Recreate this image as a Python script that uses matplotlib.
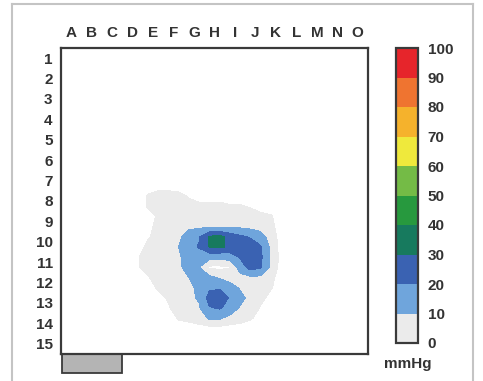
import numpy as np
import matplotlib.pyplot as plt
from matplotlib.colors import ListedColormap, BoundaryNorm
from matplotlib.cm import ScalarMappable
from matplotlib.patches import Rectangle
from matplotlib.lines import Line2D

plt.rcParams['font.family'] = ['Liberation Sans', 'DejaVu Sans']

# Sensor labels
COLUMNS = list('ABCDEFGHIJKLMNO')
ROWS = [str(n) for n in range(1, 16)]

# Colour scale (mmHg)
LEVELS = [0, 10, 20, 30, 40, 50, 60, 70, 80, 90, 100]
COLORS = ['#ebebeb', '#6fa5dc', '#3a62b2', '#177a5e', '#27993e',
          '#74bb46', '#efe93c', '#f5b22c', '#ef7430', '#e6252b']

# Pressure (mmHg) on a half-cell grid, only the loaded window.
# Window starts at half-cell row 13 / column 7 of the 30x30 grid.
WINDOW_ROW0 = 13
WINDOW_COL0 = 7
pressure = [
    [0, 0, 0, 0, 0, 0, 0, 0, 0, 0, 0, 0, 0, 0, 0],
    [0, 3, 5, 5, 4, 2, 0, 0, 0, 0, 0, 0, 0, 0, 0],
    [0, 3, 5, 5, 5, 4, 4, 4, 4, 3, 3, 2, 0, 0, 0],
    [0, 1, 3, 5, 5, 6, 6, 6, 6, 6, 5, 5, 4, 3, 0],
    [0, 1, 4, 5, 6, 8, 8, 8, 8, 8, 8, 7, 6, 4, 0],
    [0, 2, 4, 5, 8, 14, 19, 31, 33, 26, 22, 19, 14, 6, 0],
    [0, 4, 5, 6, 10, 16, 21, 30.5, 32, 28, 27, 26, 21, 8, 0],
    [2, 5, 6, 7, 8, 16, 13, 13, 12, 14, 21, 27, 22, 9, 0],
    [2, 5, 6, 7, 8, 14, 10, 1, 1, 2, 14, 24, 21, 8, 0],
    [0, 2, 5, 6, 8, 10, 14, 12, 9, 6, 7, 8, 8, 4, 0],
    [0, 1, 3, 5, 6, 8, 12, 18, 19, 14, 9, 6, 6, 3, 0],
    [0, 0, 1, 3, 5, 8, 11, 24, 26, 19, 13, 7, 4, 1, 0],
    [0, 0, 0, 2, 5, 7, 9, 19, 21, 16, 9, 6, 2, 0, 0],
    [0, 0, 0, 0, 3, 4, 6, 11, 11, 7, 5, 3, 1, 0, 0],
    [0, 0, 0, 0, 0, 0, 0, 0, 0, 0, 0, 0, 0, 0, 0],
]

# Build the full grid
grid = np.zeros((30, 30))
win = np.array(pressure, dtype=float)
grid[WINDOW_ROW0:WINDOW_ROW0 + win.shape[0], WINDOW_COL0:WINDOW_COL0 + win.shape[1]] = win
nodes = (np.arange(30) + 0.5) / 2.0

fig = plt.figure(figsize=(4.83, 3.81), dpi=100)

## Pressure map
ax = fig.add_axes([61 / 483, 1 - 354 / 381, 307 / 483, 306 / 381])
ax.contourf(nodes, nodes, grid, levels=[2.5] + LEVELS[1:], colors=COLORS)
ax.set_xlim(0, 15)
ax.set_ylim(15, 0)
ax.xaxis.tick_top()
ax.set_xticks(np.arange(15) + 0.5, COLUMNS)
ax.set_yticks(np.arange(15) + 0.5, ROWS)
ax.tick_params(length=0, labelsize=11, pad=6, labelcolor='#333333')
for label in ax.get_xticklabels() + ax.get_yticklabels():
    label.set_fontweight('bold')
for spine in ax.spines.values():
    spine.set_linewidth(1.6)
    spine.set_color('#3a3a3a')
ax.add_patch(Rectangle((0.05, 15), 2.93, 0.93, clip_on=False,
                       facecolor='#b4b4b4', edgecolor='#3a3a3a', linewidth=1.3))

## Colour bar
cax = fig.add_axes([396 / 483, 1 - 343 / 381, 22 / 483, 295 / 381])
cmap = ListedColormap(COLORS)
norm = BoundaryNorm(LEVELS, cmap.N)
cb = fig.colorbar(ScalarMappable(norm=norm, cmap=cmap), cax=cax, ticks=LEVELS)
cb.outline.set_linewidth(1.6)
cb.outline.set_edgecolor('#3a3a3a')
cax.tick_params(length=0, labelsize=11, pad=7, labelcolor='#333333')
for label in cax.get_yticklabels():
    label.set_fontweight('bold')
fig.text(408 / 483, 1 - 364 / 381, 'mmHg', ha='center', va='center',
         fontsize=11, fontweight='bold', color='#333333')

## Outer frame
frame = dict(color='#c4c4c4', linewidth=1.5, transform=fig.transFigure)
fig.add_artist(Line2D([12 / 483, 12 / 483], [0, 1 - 4 / 381], **frame))
fig.add_artist(Line2D([12 / 483, 473 / 483], [1 - 4 / 381, 1 - 4 / 381], **frame))
fig.add_artist(Line2D([473 / 483, 473 / 483], [0, 1 - 4 / 381], **frame))

fig.savefig('out.png', dpi=100)
